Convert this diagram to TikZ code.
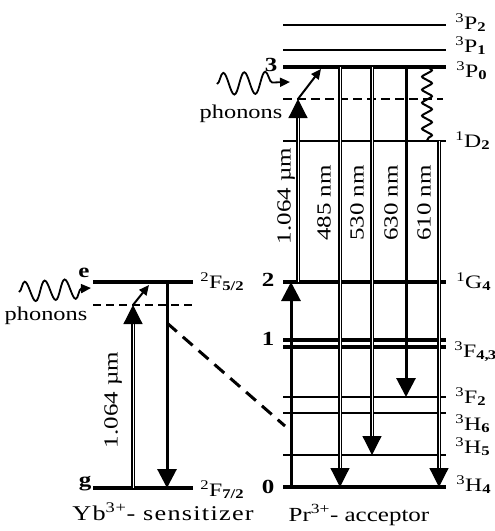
\documentclass[tikz,border=0pt]{standalone}
\usepackage{fontspec}
\setmainfont[FakeStretch=1.25]{Liberation Serif}
\usetikzlibrary{arrows.meta,decorations.pathmorphing}
\tikzset{
    lev/.style={line width=2pt},
    levb/.style={line width=4pt},
    dashlev/.style={line width=1.8pt, dash pattern=on 9pt off 5pt},
    tipbig/.style={-{Triangle[length=19pt,width=19pt]}},
    tipsmall/.style={-{Triangle[length=10pt,width=9pt]}, line width=2pt},
    dbl/.style={double, double distance=0.9pt, line width=1.2pt},
    solidarr/.style={line width=3pt},
    lbl/.style={anchor=west, font=\fontsize{19}{21}\selectfont},
    num/.style={font=\fontsize{20}{22}\selectfont\bfseries},
    txt/.style={font=\fontsize{20}{22}\selectfont},
    phtxt/.style={font=\fontsize{19.5}{22}\selectfont}
}
\begin{document}
\begin{tikzpicture}[x=1pt, y=-1pt]
    \useasboundingbox (0,0) rectangle (495,531);

    \coordinate (P2) at (283,25);
    \coordinate (P1) at (283,50);
    \coordinate (P0) at (283,67);
    \coordinate (Pv) at (283,99);
    \coordinate (D2) at (283,141);
    \coordinate (G4) at (283,282);
    \coordinate (F4) at (283,340);
    \coordinate (F3) at (283,347);
    \coordinate (F2) at (283,397);
    \coordinate (H6) at (283,413);
    \coordinate (H5) at (283,455);
    \coordinate (H4) at (283,487);
    \coordinate (Ye) at (93,282);
    \coordinate (Yv) at (93,305);
    \coordinate (Yg) at (93,488);

    \draw[lev] (P2) -- ++(163,0) node[lbl, xshift=5pt, yshift=2pt] (lP2) {\textsuperscript{3}P\textsubscript{\textbf{2}}};
    \draw[lev] (P1) -- ++(163,0) node[lbl, xshift=5pt, yshift=4pt] (lP1) {\textsuperscript{3}P\textsubscript{\textbf{1}}};
    \draw[levb] (P0) -- ++(163,0) node[lbl, xshift=5pt, yshift=-4pt] (lP0) {\textsuperscript{3}P\textsubscript{\textbf{0}}};
    \draw[dashlev] (Pv) -- ++(160,0);
    \draw[lev] (D2) -- ++(163,0) node[lbl, xshift=5pt] (lD2) {\textsuperscript{1}D\textsubscript{\textbf{2}}};
    \draw[levb] (G4) -- ++(163,0) node[lbl, xshift=5pt] (lG4) {\textsuperscript{1}G\textsubscript{\textbf{4}}};
    \draw[levb] (F4) -- ++(163,0);
    \draw[levb] (F3) -- ++(163,0) node[lbl, xshift=3pt, yshift=-5pt] (lF43) {\textsuperscript{3}F\textsubscript{\textbf{4,\kern-1pt3}}};
    \draw[lev] (F2) -- ++(163,0) node[lbl, xshift=5pt] (lF2) {\textsuperscript{3}F\textsubscript{\textbf{2}}};
    \draw[lev] (H6) -- ++(163,0) node[lbl, xshift=5pt, yshift=-11pt] (lH6) {\textsuperscript{3}H\textsubscript{\textbf{6}}};
    \draw[lev] (H5) -- ++(163,0) node[lbl, xshift=5pt, yshift=8pt] (lH5) {\textsuperscript{3}H\textsubscript{\textbf{5}}};
    \draw[levb] (H4) -- ++(163,0) node[lbl, xshift=5pt, yshift=2pt] (lH4) {\textsuperscript{3}H\textsubscript{\textbf{4}}};

    \draw[levb] (Ye) -- ++(100,0) node[lbl, xshift=2pt] (lYe) {\textsuperscript{2}F\textsubscript{\textbf{5/2}}};
    \draw[dashlev, dash pattern=on 8pt off 5pt] (Yv) -- ++(99,0);
    \draw[levb] (Yg) -- ++(100,0) node[lbl, xshift=2pt, yshift=-2pt] (lYg) {\textsuperscript{2}F\textsubscript{\textbf{7/2}}};

    \node[num] (n3) at (271,65) {3};
    \node[num] (n2) at (268,280) {2};
    \node[num] (n1) at (268,339) {1};
    \node[num] (n0) at (268,487) {0};
    \node[num] (ne) at (84,273) {e};
    \node[num] (ng) at (85,484) {g};

    \draw[solidarr, tipbig] (291,0 |- H4) -- (291,0 |- G4);
    \draw[dbl, tipbig] (298,0 |- G4) -- (298,0 |- Pv);
    \draw[tipsmall] (298,0 |- Pv) -- (321,69);
    \draw[dbl, tipbig] (340,0 |- P0) -- (340,0 |- H4);
    \draw[dbl, tipbig] (372,0 |- P0) -- (372,0 |- H5);
    \draw[solidarr, tipbig] (406,0 |- P0) -- (406,0 |- F2);
    \draw[line width=2pt, rounded corners=2pt, decorate, decoration={zigzag, amplitude=6pt, segment length=13pt}] (427,0 |- P0) -- (427,0 |- D2);
    \draw[dbl, tipbig] (439,0 |- D2) -- (439,0 |- H4);

    \draw[dbl, tipbig] (133,0 |- Yg) -- (133,0 |- Yv);
    \draw[tipsmall] (133,0 |- Yv) -- (149,285);
    \draw[solidarr, tipbig] (167,0 |- Ye) -- (167,0 |- Yg);
    \coordinate (dstart) at (167,323);
    \coordinate (dend) at (285,426);
    \draw[line width=3pt, dash pattern=on 13pt off 8pt] (dstart) -- (dend);

    \coordinate (w1) at (19,292);
    \coordinate (w1e) at (91,288);
    \draw[tipsmall, line width=1.8pt, decorate, decoration={snake, amplitude=10pt, segment length=20pt, post length=9pt}] (w1) -- (w1e);
    \node[phtxt] (ph1) at (46,316) {phonons};
    \coordinate (w2) at (217,84);
    \coordinate (w2e) at (290,82);
    \draw[tipsmall, line width=1.8pt, decorate, decoration={snake, amplitude=11pt, segment length=21pt, post length=9pt}] (w2) -- (w2e);
    \node[phtxt] (ph2) at (241,114) {phonons};

    \node[txt, rotate=90] (t1) at (113,400) {1.064 µm};
    \node[txt, rotate=90] (t2) at (286,196) {1.064 µm};
    \node[txt, rotate=90] (t3) at (324,203) {485 nm};
    \node[txt, rotate=90] (t4) at (357,203) {530 nm};
    \node[txt, rotate=90] (t5) at (391,203) {630 nm};
    \node[txt, rotate=90] (t6) at (424,203) {610 nm};

    \node[txt, anchor=base, font=\fontsize{21}{23}\selectfont\addfontfeatures{LetterSpace=6}] (yb) at (163,520) {Yb\textsuperscript{3+}- sensitizer};
    \node[txt, anchor=base] (pr) at (359,521) {Pr\textsuperscript{3+}- acceptor};
\end{tikzpicture}
\end{document}
